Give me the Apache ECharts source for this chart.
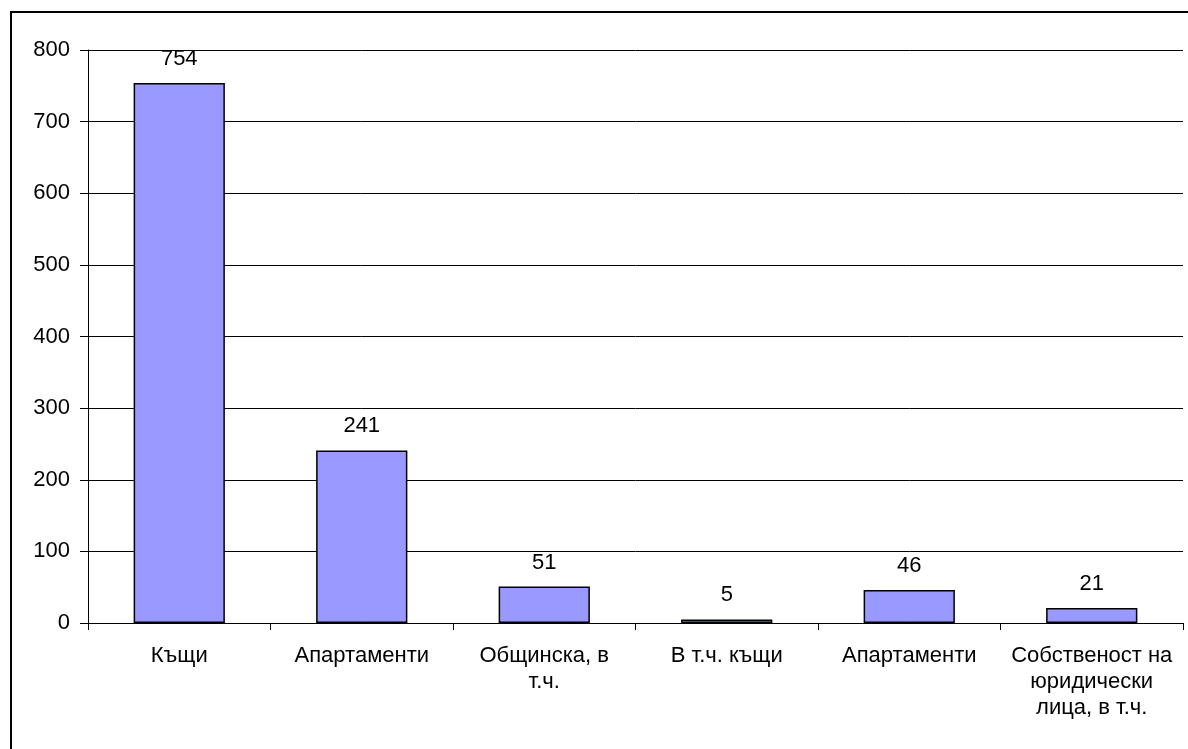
<!DOCTYPE html>
<html>
<head>
<meta charset="utf-8">
<script src="https://cdn.jsdelivr.net/npm/echarts@6/dist/echarts.min.js"></script>
<style>
html,body{margin:0;padding:0;background:#fff;}
#chart{width:1188px;height:749px;}
</style>
</head>
<body>
<div id="chart"></div>
<script>
const categories = ["Къщи", "Апартаменти", "Общинска, в\nт.ч.", "В т.ч. къщи", "Апартаменти", "Собственост на\nюридически\nлица, в т.ч."];
const values = [754, 241, 51, 5, 46, 21];
const yTicks = [0, 100, 200, 300, 400, 500, 600, 700, 800];

const chart = echarts.init(document.getElementById('chart'), null, {renderer: 'canvas'});
const font = 'Liberation Sans, Arial, sans-serif';
chart.setOption({
  animation: false,
  backgroundColor: '#fff',
  graphic: [{
    type: 'rect',
    shape: {x: 11, y: 12, width: 1200, height: 760},
    style: {fill: 'none', stroke: '#000', lineWidth: 2},
    silent: true, z: 100
  }],
  grid: {left: 88, right: 5, top: 50, bottom: 126, containLabel: false},
  xAxis: {
    type: 'category',
    data: categories,
    axisLine: {lineStyle: {color: '#000', width: 1}},
    axisTick: {show: true, length: 7, lineStyle: {color: '#000'}, alignWithLabel: false},
    axisLabel: {color: '#000', fontFamily: font, fontSize: 22, lineHeight: 26, margin: 20, interval: 0, align: 'center'},
    splitLine: {show: false}
  },
  yAxis: {
    type: 'value',
    min: yTicks[0],
    max: yTicks[yTicks.length - 1],
    interval: 100,
    axisLine: {show: true, lineStyle: {color: '#000', width: 1}},
    axisTick: {show: true, length: 8, lineStyle: {color: '#000'}},
    axisLabel: {color: '#000', fontFamily: font, fontSize: 22, margin: 18},
    splitLine: {show: true, lineStyle: {color: '#000', width: 1}}
  },
  series: [{
    type: 'bar',
    data: values,
    barCategoryGap: '50%',
    itemStyle: {color: '#9999ff', borderColor: '#000', borderWidth: 1.5},
    label: {show: true, position: 'top', distance: 13, color: '#000', fontFamily: font, fontSize: 22}
  }]
});
</script>
</body>
</html>
